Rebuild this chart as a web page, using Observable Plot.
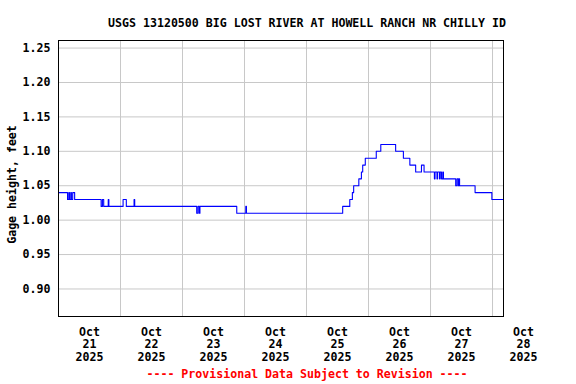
<!DOCTYPE html>
<html>
<head>
<meta charset="utf-8">
<script src="https://cdn.jsdelivr.net/npm/d3@7"></script>
<script src="https://cdn.jsdelivr.net/npm/@observablehq/plot@0.6"></script>
<style>
  html, body { margin: 0; padding: 0; background: #fff; }
</style>
</head>
<body>
<div id="chart"></div>
<script>
const titleText = "USGS 13120500 BIG LOST RIVER AT HOWELL RANCH NR CHILLY ID";
const captionText = "---- Provisional Data Subject to Revision ----";
const yLabel = "Gage height, feet";

const times = [
  "2025-10-21T00:00", "2025-10-21T03:30", "2025-10-21T04:00", "2025-10-21T04:15",
  "2025-10-21T04:45", "2025-10-21T05:00", "2025-10-21T05:30", "2025-10-21T06:15",
  "2025-10-21T16:30", "2025-10-21T17:00", "2025-10-21T17:30", "2025-10-21T19:15",
  "2025-10-21T19:30", "2025-10-22T01:00", "2025-10-22T02:15", "2025-10-22T05:15",
  "2025-10-22T05:30", "2025-10-23T05:30", "2025-10-23T06:00", "2025-10-23T06:30",
  "2025-10-23T06:45", "2025-10-23T21:00", "2025-10-24T00:30", "2025-10-24T00:45",
  "2025-10-25T14:00", "2025-10-25T16:45", "2025-10-25T17:45", "2025-10-25T18:15",
  "2025-10-25T20:15", "2025-10-25T21:15", "2025-10-25T21:45", "2025-10-25T22:45",
  "2025-10-26T03:00", "2025-10-26T04:45", "2025-10-26T10:30", "2025-10-26T13:30",
  "2025-10-26T16:00", "2025-10-26T18:15", "2025-10-26T20:30", "2025-10-26T21:30",
  "2025-10-27T01:30", "2025-10-27T01:45", "2025-10-27T02:30", "2025-10-27T02:45",
  "2025-10-27T03:30", "2025-10-27T03:45", "2025-10-27T04:15", "2025-10-27T04:45",
  "2025-10-27T05:00", "2025-10-27T09:45", "2025-10-27T10:15", "2025-10-27T10:45",
  "2025-10-27T11:00", "2025-10-27T11:15", "2025-10-27T17:15", "2025-10-27T23:45",
  "2025-10-28T04:00"
];
const heights = [
  1.04, 1.03, 1.04, 1.03,
  1.04, 1.03, 1.04, 1.03,
  1.02, 1.03, 1.02, 1.03,
  1.02, 1.03, 1.02, 1.03,
  1.02, 1.01, 1.02, 1.01,
  1.02, 1.01, 1.02, 1.01,
  1.02, 1.03, 1.04, 1.05,
  1.06, 1.07, 1.08, 1.09,
  1.10, 1.11, 1.10, 1.09,
  1.08, 1.07, 1.08, 1.07,
  1.06, 1.07, 1.06, 1.07,
  1.06, 1.07, 1.06, 1.07,
  1.06, 1.05, 1.06, 1.05,
  1.06, 1.05, 1.04, 1.03,
  1.03
];

const yTicks = [0.90, 0.95, 1.00, 1.05, 1.10, 1.15, 1.20, 1.25];
const xLabelDays = ["2025-10-21", "2025-10-22", "2025-10-23", "2025-10-24",
                    "2025-10-25", "2025-10-26", "2025-10-27", "2025-10-28"];
const xGridDays = ["2025-10-22", "2025-10-23", "2025-10-24", "2025-10-25",
                   "2025-10-26", "2025-10-27", "2025-10-28"];
const xDomain = ["2025-10-21T00:00", "2025-10-28T04:15"];
const yDomain = [0.86, 1.261];

const toDate = s => new Date(s.length === 10 ? s + "T00:00Z" : s + "Z");
const rows = times.map((t, i) => ({date: toDate(t), value: heights[i]}));
const noon = xLabelDays.map(d => new Date(toDate(d).getTime() + 12 * 3600e3));
const grid = xGridDays.map(toDate);
const mon = d3.utcFormat("%b"), day = d3.utcFormat("%d"), yr = d3.utcFormat("%Y");

const font = {fontFamily: "DejaVu Sans Mono", fontWeight: "bold", fontSize: 11.6};

const chart = Plot.plot({
  width: 576,
  height: 384,
  marginLeft: 58,
  marginTop: 40,
  marginRight: 73,
  marginBottom: 68,
  x: {type: "utc", domain: xDomain.map(toDate), axis: null},
  y: {domain: yDomain, axis: null},
  style: {background: "#fff", fontFamily: "DejaVu Sans Mono"},
  marks: [
    Plot.ruleY(yTicks, {y: d => d, stroke: "#c8c8c8", strokeWidth: 1}),
    Plot.ruleX(grid, {x: d => d, stroke: "#c8c8c8", strokeWidth: 1}),
    Plot.line(rows, {x: "date", y: "value", curve: "step-after", stroke: "#0000ff", strokeWidth: 1.1}),
    Plot.frame({stroke: "#000", strokeWidth: 1}),
    Plot.text(yTicks, {y: d => d, text: d => d.toFixed(2), frameAnchor: "left",
      textAnchor: "end", dx: -8, fill: "#000", ...font}),
    Plot.text(noon, {x: d => d, text: d => `${mon(d)}\n${day(d)}\n${yr(d)}`,
      frameAnchor: "bottom", lineAnchor: "top", dy: 10, lineHeight: 1.1,
      fill: "#000", ...font}),
    Plot.text([titleText], {text: d => d, frameAnchor: "top", dx: 26, dy: -17.5,
      lineAnchor: "middle", fill: "#000", ...font}),
    Plot.text([captionText], {text: d => d, frameAnchor: "bottom", dx: 26, dy: 58,
      lineAnchor: "middle", fill: "#ff0000", ...font}),
    Plot.text([yLabel], {text: d => d, frameAnchor: "left", dx: -46, dy: 6,
      rotate: -90, lineAnchor: "middle", textAnchor: "middle", fill: "#000", ...font})
  ]
});
document.getElementById("chart").appendChild(chart);
</script>
</body>
</html>
